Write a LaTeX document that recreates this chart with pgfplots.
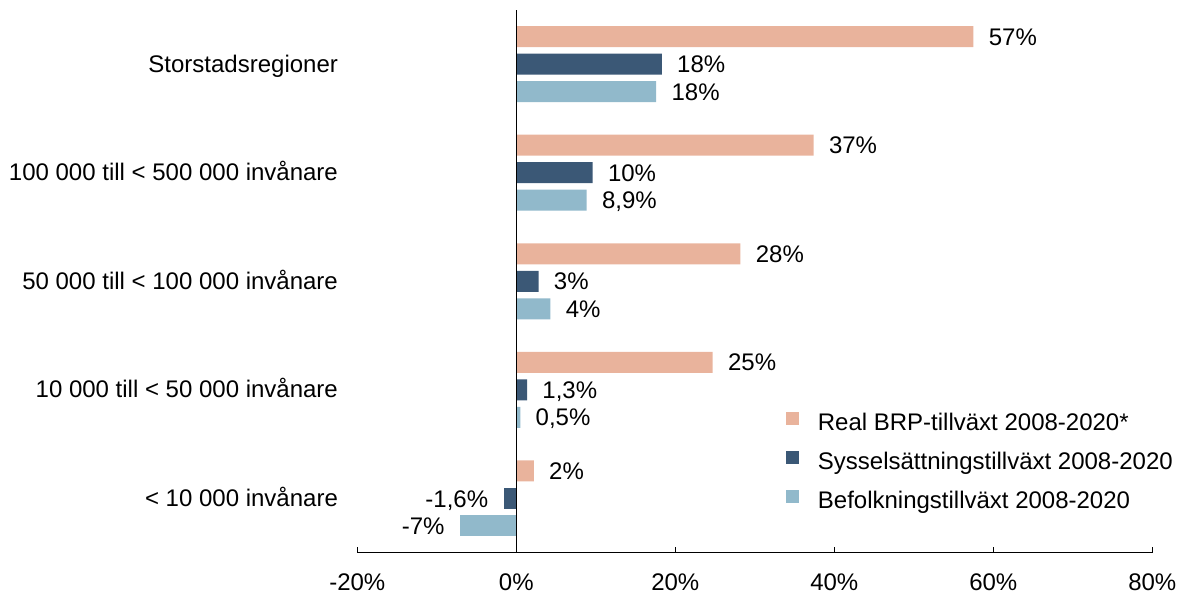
\documentclass[border=0pt]{standalone}
\usepackage{pgfplots}
\pgfplotsset{compat=1.18}
\usepackage{fontspec}
\setmainfont{Liberation Sans}
\definecolor{cBRP}{RGB}{233,179,156}
\definecolor{cSys}{RGB}{59,88,118}
\definecolor{cBef}{RGB}{145,185,203}
\begin{document}
\fontsize{12pt}{14pt}\selectfont
\begin{tikzpicture}
\useasboundingbox (0,0) rectangle (590.5pt,297pt);
\begin{axis}[
  at={(178.65pt,20.65pt)}, anchor=south west,
  scale only axis, width=397.5pt, height=271.4pt,
  xmin=-20, xmax=80, ymin=-0.5, ymax=4.5,
  axis x line*=bottom, axis y line*=left,
  y axis line style={draw=none},
  x axis line style={line width=0.6pt},
  xtick={-20,0,20,40,60,80},
  xticklabels={-20\%,0\%,20\%,40\%,60\%,80\%},
  ytick={0,1,2,3,4},
  yticklabels={< 10 000 invånare,10 000 till < 50 000 invånare,50 000 till < 100 000 invånare,100 000 till < 500 000 invånare,Storstadsregioner},
  tick align=inside, major tick length=3pt,
  xtick style={black, line width=0.6pt},
  ytick style={draw=none},
  xticklabel style={font=\fontsize{12pt}{14pt}\selectfont, anchor=base, inner sep=0pt, yshift=-18.65pt},
  yticklabel style={font=\fontsize{12pt}{14pt}\selectfont, anchor=base east, inner sep=0pt, xshift=-6.5pt, yshift=-4pt},
  xbar, bar width=10.5pt,
  point meta=explicit symbolic,
  nodes near coords,
  nodes near coords style={font=\fontsize{12pt}{14pt}\selectfont, inner xsep=7.5pt, inner ysep=0pt, text height=8.6pt, text depth=0pt, black},
  legend style={draw=none, fill=none, inner sep=0pt, at={(axis cs:33.9,0.80)}, anchor=north west,
    row sep=7pt, font=\fontsize{12pt}{14pt}\selectfont,
    nodes={inner xsep=0pt, inner ysep=0pt, text height=9pt, text depth=3pt}},
  legend cell align=left,
]
\addplot[fill=cBRP, draw=none, bar shift=13.75pt,
  every node near coord/.append style={anchor=west},
  legend image code/.code={\fill[fill=cBRP] (0pt,0pt) rectangle (6.5pt,6.5pt); \path (15.85pt,0pt);}]
  coordinates {(57.5,4) [57\%] (37.4,3) [37\%] (28.2,2) [28\%] (24.7,1) [25\%] (2.2,0) [2\%]};
\addlegendentry{Real BRP-tillväxt 2008-2020*}
\addplot[fill=cSys, draw=none, bar shift=0pt,
  every node near coord/.append style={anchor=west},
  legend image code/.code={\fill[fill=cSys] (0pt,0pt) rectangle (6.5pt,6.5pt); \path (15.85pt,0pt);}]
  coordinates {(18.3,4) [18\%] (9.6,3) [10\%] (2.8,2) [3\%] (1.35,1) [1,3\%]};
\addlegendentry{Sysselsättningstillväxt 2008-2020}
\addplot[fill=cBef, draw=none, bar shift=-13.75pt,
  every node near coord/.append style={anchor=west},
  legend image code/.code={\fill[fill=cBef] (0pt,0pt) rectangle (6.5pt,6.5pt); \path (15.85pt,0pt);}]
  coordinates {(17.6,4) [18\%] (8.85,3) [8,9\%] (4.3,2) [4\%] (0.5,1) [0,5\%]};
\addlegendentry{Befolkningstillväxt 2008-2020}
\addplot[forget plot, fill=cSys, draw=none, bar shift=0pt,
  every node near coord/.append style={anchor=east}]
  coordinates {(-1.6,0) [-1,6\%]};
\addplot[forget plot, fill=cBef, draw=none, bar shift=-13.75pt,
  every node near coord/.append style={anchor=east}]
  coordinates {(-7.1,0) [-7\%]};
\draw[line width=0.6pt] (axis cs:0,-0.5) -- (axis cs:0,4.5);
\end{axis}
\end{tikzpicture}
\end{document}
